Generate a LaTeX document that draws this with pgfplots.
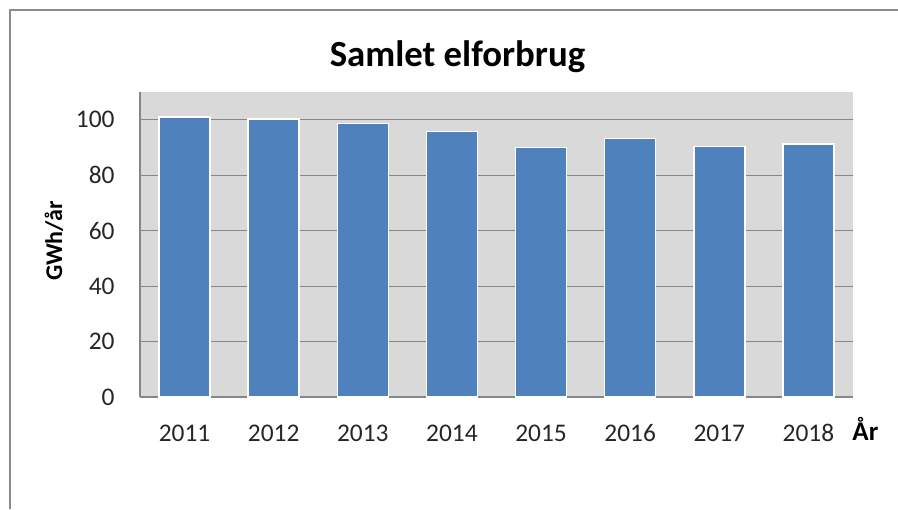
\documentclass[border=0pt]{standalone}
\usepackage{pgfplots}
\pgfplotsset{compat=1.18}
\usepackage{fontspec}
\setmainfont{Carlito}
\definecolor{barblue}{HTML}{4F81BD}
\definecolor{plotbg}{HTML}{D9D9D9}
\definecolor{gridgray}{HTML}{868686}
\definecolor{framegray}{HTML}{8C8C8C}
\begin{document}
\begin{tikzpicture}[x=1pt,y=1pt]
\useasboundingbox (0,0) rectangle (449,254.5);
\draw[framegray, line width=1pt] (5,0) -- (5,249.5) -- (449,249.5);
\begin{axis}[
  at={(70pt,56pt)}, anchor=south west,
  scale only axis, width=356.5pt, height=152.5pt,
  xmin=-0.5, xmax=7.5, ymin=0, ymax=110,
  axis background/.style={fill=plotbg},
  ybar, bar width=25.5pt,
  xtick={0,...,7}, xticklabels={2011,2012,2013,2014,2015,2016,2017,2018},
  ytick={0,20,...,100},
  ymajorgrids, grid style={gridgray, line width=0.5pt},
  axis x line*=bottom, axis y line*=left,
  axis line style={gridgray, line width=0.6pt, -},
  major tick length=0pt,
  tick style={draw=none},
  /pgf/number format/assume math mode=true,
  ticklabel style={font=\fontsize{12.7}{14}\selectfont, text=black!85, inner sep=0pt},
  xticklabel style={anchor=base, yshift=-22.3pt},
  yticklabel style={anchor=east, xshift=-12.5pt},
]
\addplot[fill=barblue, draw=white, line width=0.75pt] coordinates {(0,101) (1,100.3) (2,98.6) (3,95.8) (4,89.9) (5,93.2) (6,90.3) (7,91.2)};
\end{axis}
\node[anchor=base, inner sep=0pt, font=\bfseries\fontsize{18.4}{20}\selectfont] at (228.75,221) {Samlet elforbrug};
\node[rotate=90, inner sep=0pt, font=\bfseries\fontsize{12}{14}\selectfont] at (27,134) {GWh/år};
\node[anchor=base west, inner sep=0pt, font=\bfseries\fontsize{13.5}{15}\selectfont] at (426,34.5) {År};
\end{tikzpicture}
\end{document}
